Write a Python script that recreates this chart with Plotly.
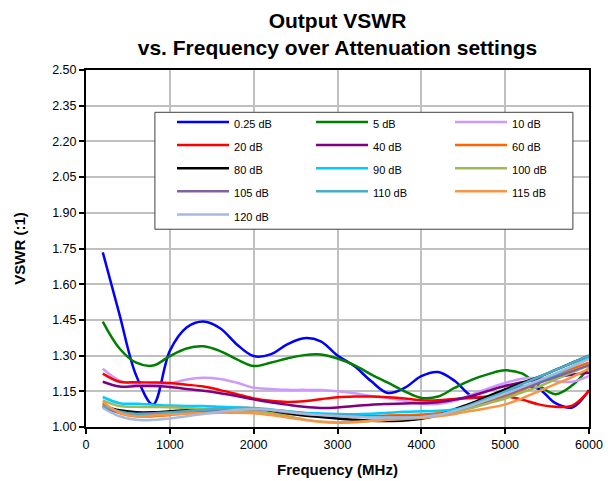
import plotly.graph_objects as go

freq = [200, 400, 600, 800, 1000, 1200, 1400, 1600, 1800, 2000,
        2200, 2400, 2600, 2800, 3000, 3200, 3400, 3600, 3800, 4000,
        4200, 4400, 4600, 4800, 5000, 5200, 5400, 5600, 5800, 6000]

att_0_25 = [1.734, 1.472, 1.215, 1.095, 1.320, 1.418, 1.443, 1.415, 1.347, 1.298,
            1.305, 1.347, 1.373, 1.360, 1.300, 1.256, 1.193, 1.143, 1.164, 1.214,
            1.231, 1.193, 1.130, 1.120, 1.150, 1.170, 1.160, 1.100, 1.082, 1.155]
att_5 = [1.443, 1.330, 1.270, 1.258, 1.298, 1.330, 1.339, 1.319, 1.284, 1.256,
         1.270, 1.288, 1.302, 1.305, 1.288, 1.260, 1.221, 1.186, 1.150, 1.122,
         1.128, 1.165, 1.198, 1.222, 1.238, 1.225, 1.175, 1.138, 1.175, 1.249]
att_10 = [1.245, 1.195, 1.180, 1.178, 1.183, 1.200, 1.207, 1.202, 1.186, 1.165,
          1.160, 1.156, 1.156, 1.155, 1.150, 1.142, 1.130, 1.122, 1.110, 1.098,
          1.097, 1.110, 1.136, 1.162, 1.185, 1.203, 1.205, 1.192, 1.190, 1.215]
att_20 = [1.224, 1.190, 1.188, 1.187, 1.185, 1.178, 1.170, 1.155, 1.138, 1.120,
          1.110, 1.105, 1.108, 1.117, 1.125, 1.128, 1.128, 1.125, 1.120, 1.112,
          1.112, 1.118, 1.122, 1.128, 1.130, 1.115, 1.095, 1.085, 1.090, 1.152]
att_40 = [1.190, 1.170, 1.172, 1.172, 1.168, 1.160, 1.152, 1.142, 1.130, 1.116,
          1.104, 1.094, 1.085, 1.080, 1.082, 1.088, 1.094, 1.097, 1.099, 1.100,
          1.104, 1.115, 1.130, 1.152, 1.172, 1.188, 1.200, 1.210, 1.220, 1.228]
att_60 = [1.100, 1.060, 1.045, 1.045, 1.050, 1.058, 1.064, 1.068, 1.070, 1.068,
          1.062, 1.055, 1.050, 1.046, 1.045, 1.045, 1.046, 1.048, 1.050, 1.052,
          1.058, 1.070, 1.085, 1.105, 1.128, 1.155, 1.185, 1.215, 1.245, 1.270]
att_80 = [1.090, 1.070, 1.062, 1.062, 1.066, 1.070, 1.074, 1.078, 1.080, 1.078,
          1.068, 1.058, 1.048, 1.042, 1.036, 1.030, 1.026, 1.025, 1.027, 1.035,
          1.050, 1.075, 1.100, 1.130, 1.158, 1.185, 1.210, 1.240, 1.270, 1.300]
att_90 = [1.126, 1.100, 1.098, 1.094, 1.090, 1.088, 1.088, 1.085, 1.082, 1.078,
          1.072, 1.066, 1.060, 1.057, 1.055, 1.054, 1.056, 1.060, 1.064, 1.066,
          1.068, 1.075, 1.092, 1.115, 1.140, 1.165, 1.190, 1.220, 1.255, 1.290]
att_100 = [1.112, 1.088, 1.085, 1.084, 1.083, 1.080, 1.077, 1.075, 1.072, 1.068,
           1.058, 1.045, 1.032, 1.022, 1.018, 1.020, 1.025, 1.030, 1.035, 1.040,
           1.048, 1.062, 1.080, 1.100, 1.120, 1.145, 1.170, 1.200, 1.230, 1.260]
att_105 = [1.085, 1.060, 1.055, 1.058, 1.062, 1.066, 1.070, 1.074, 1.076, 1.076,
           1.070, 1.062, 1.055, 1.050, 1.048, 1.046, 1.045, 1.044, 1.044, 1.045,
           1.052, 1.068, 1.090, 1.112, 1.135, 1.160, 1.185, 1.210, 1.235, 1.260]
att_110 = [1.090, 1.065, 1.055, 1.055, 1.060, 1.066, 1.072, 1.077, 1.080, 1.080,
           1.074, 1.066, 1.058, 1.052, 1.048, 1.045, 1.042, 1.040, 1.040, 1.042,
           1.050, 1.070, 1.095, 1.122, 1.150, 1.180, 1.210, 1.240, 1.270, 1.300]
att_115 = [1.105, 1.060, 1.045, 1.048, 1.052, 1.056, 1.058, 1.060, 1.060, 1.058,
           1.050, 1.040, 1.030, 1.022, 1.020, 1.022, 1.026, 1.030, 1.034, 1.038,
           1.045, 1.055, 1.068, 1.080, 1.095, 1.120, 1.150, 1.180, 1.210, 1.245]
att_120 = [1.080, 1.045, 1.030, 1.030, 1.036, 1.045, 1.055, 1.064, 1.072, 1.076,
           1.072, 1.064, 1.056, 1.050, 1.046, 1.043, 1.040, 1.040, 1.040, 1.042,
           1.050, 1.068, 1.090, 1.115, 1.140, 1.168, 1.196, 1.225, 1.255, 1.285]

series_names = ["0.25 dB", "5 dB", "10 dB", "20 dB", "40 dB", "60 dB", "80 dB",
                "90 dB", "100 dB", "105 dB", "110 dB", "115 dB", "120 dB"]
series_values = [att_0_25, att_5, att_10, att_20, att_40, att_60, att_80,
                 att_90, att_100, att_105, att_110, att_115, att_120]
series_colors = ["#0000FF", "#008000", "#CC99FF", "#FF0000", "#800080", "#FF6600",
                 "#000000", "#00CCFF", "#9BBB59", "#8064A2", "#4BACC6", "#F79646",
                 "#A6BADB"]

y_ticks = [1.00, 1.15, 1.30, 1.45, 1.60, 1.75, 1.90, 2.05, 2.20, 2.35, 2.50]
x_ticks = [0, 1000, 2000, 3000, 4000, 5000, 6000]

FONT = "Arial, Liberation Sans, sans-serif"

fig = go.Figure()
for name, vals, col in zip(series_names, series_values, series_colors):
    fig.add_trace(go.Scatter(
        x=freq, y=vals, mode="lines",
        name='<span style="font-size:11px">' + name + '</span>',
        line=dict(color=col, width=2.5, shape="spline", smoothing=1.0),
    ))

# legend frame (white box with thin border)
fig.add_shape(type="rect", xref="paper", yref="paper",
              x0=0.137, x1=0.968, y0=0.554, y1=0.8815,
              fillcolor="white", line=dict(color="#404040", width=1), layer="above")

fig.update_layout(
    width=608, height=481,
    margin=dict(l=86, r=19, t=70, b=54),
    paper_bgcolor="white", plot_bgcolor="white",
    font=dict(family=FONT, color="black"),
    title=dict(
        text="<b>Output VSWR<br>vs. Frequency over Attenuation settings</b>",
        x=0.5, xref="paper", xanchor="center",
        y=0.942, yref="container", yanchor="top",
        font=dict(size=21, family=FONT, color="black"),
    ),
    legend=dict(
        orientation="h",
        x=0.171, xanchor="left", xref="paper",
        y=0.901, yanchor="top", yref="paper",
        bgcolor="rgba(0,0,0,0)", borderwidth=0,
        font=dict(size=15.5, family=FONT, color="black"),
        itemwidth=52, entrywidth=72,
        traceorder="normal",
    ),
    showlegend=True,
)

fig.update_xaxes(
    range=[0, 6000], tickvals=x_ticks, ticktext=[str(v) for v in x_ticks],
    showgrid=True, gridcolor="#C0C0C0", gridwidth=1.5,
    showline=True, linecolor="black", linewidth=2, mirror=True,
    ticks="outside", ticklen=5, tickcolor="black", tickwidth=1.5,
    tickfont=dict(size=12.5, family=FONT, color="black"),
    title=dict(text="<b>Frequency (MHz)</b>", font=dict(size=15, family=FONT, color="black"), standoff=13),
    zeroline=False, automargin=False,
)
fig.update_yaxes(
    range=[1.0, 2.5], tickvals=y_ticks, ticktext=["%.2f" % v for v in y_ticks],
    showgrid=True, gridcolor="#C0C0C0", gridwidth=1.5,
    showline=True, linecolor="black", linewidth=2, mirror=True,
    ticks="outside", ticklen=5, tickcolor="black", tickwidth=1.5,
    tickfont=dict(size=12.5, family=FONT, color="black"),
    title=dict(text="<b>VSWR (:1)</b>", font=dict(size=15, family=FONT, color="black"), standoff=23),
    zeroline=False, automargin=False,
)

fig.write_html("out.html",
               config={"displayModeBar": False},
               post_script="document.body.style.margin='0px';document.body.style.overflow='hidden';")
